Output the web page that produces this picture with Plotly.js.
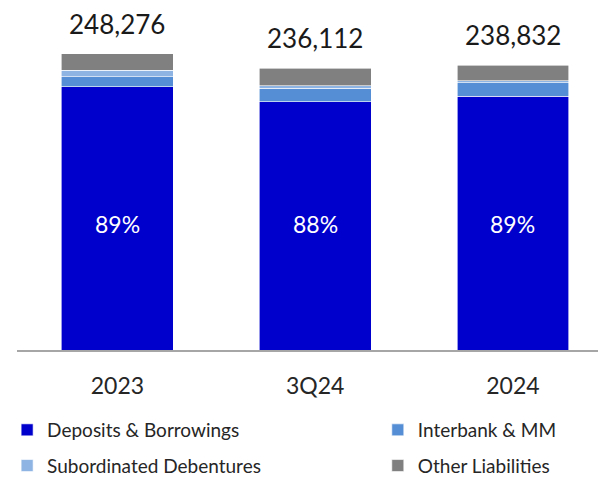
<!DOCTYPE html>
<html>
<head>
<meta charset="utf-8">
<script src="https://cdn.plot.ly/plotly-3.0.1.min.js"></script>
<style>html,body{margin:0;padding:0;background:#fff;}#chart{width:598px;height:479px;}</style>
</head>
<body>
<div id="chart"></div>
<script>
const categories = ['2023', '3Q24', '2024'];
const deposits = [220500, 208000, 212600];
const interbank = [8400, 11500, 11200];
const subordinated = [5600, 2000, 1700];
const otherLiabilities = [13776, 14612, 13332];
const totals = [248276, 236112, 238832];
const seriesNames = ['Deposits & Borrowings', 'Interbank & MM', 'Subordinated Debentures', 'Other Liabilities'];

const FONT = 'Lato, "Liberation Sans", Arial, sans-serif';
const TXT = '#262626';
const barW = 0.566;
const border = {color: '#FFFFFF', width: 0.6};

function bar(name, y, color, legend, group) {
  return {
    type: 'bar', name: name, x: categories, y: y, width: barW,
    marker: {color: color, line: border},
    legend: legend, legendgroup: group,
    hoverinfo: 'y+name'
  };
}

const traces = [
  bar(seriesNames[0], deposits, '#0000CC', 'legend', 'g1'),
  bar(seriesNames[1], interbank, '#558ED5', 'legend2', 'g2'),
  bar(seriesNames[2], subordinated, '#8DB4E2', 'legend', 'g3'),
  bar(seriesNames[3], otherLiabilities, '#808080', 'legend2', 'g4')
];

const fmt = n => n.toLocaleString('en-US');
const annotations = [];
categories.forEach((c, i) => {
  annotations.push({
    x: i, y: totals[i], xref: 'x', yref: 'y', text: fmt(totals[i]),
    showarrow: false, yanchor: 'bottom', yshift: 12,
    font: {family: FONT, size: 26, color: '#1a1a1a'}
  });
  annotations.push({
    x: i, y: 0.36, xref: 'x', yref: 'paper',
    text: Math.round(deposits[i] / totals[i] * 100) + '%',
    showarrow: false, font: {family: FONT, size: 23, color: '#FFFFFF'}
  });
});

const legendCommon = {
  orientation: 'v', traceorder: 'grouped', yref: 'container', yanchor: 'top', y: 0.142,
  font: {family: FONT, size: 19, color: TXT}, tracegroupgap: 8,
  bgcolor: 'rgba(0,0,0,0)', itemclick: false, itemdoubleclick: false
};

const layout = {
  width: 598, height: 479,
  margin: {l: 17, r: 0, t: 0, b: 129},
  barmode: 'stack',
  paper_bgcolor: '#FFFFFF', plot_bgcolor: '#FFFFFF',
  showlegend: true,
  xaxis: {
    type: 'category', range: [-0.508, 2.43],
    showline: true, linecolor: '#A6A6A6', linewidth: 2,
    ticks: '', ticklabelstandoff: 14,
    tickfont: {family: FONT, size: 23, color: TXT},
    showgrid: false, zeroline: false, fixedrange: true
  },
  yaxis: {
    range: [0, 293300], visible: false, showgrid: false, zeroline: false, fixedrange: true
  },
  legend: Object.assign({}, legendCommon, {x: -0.017, xanchor: 'left'}),
  legend2: Object.assign({}, legendCommon, {x: 0.621, xanchor: 'left'}),
  annotations: annotations
};

Plotly.newPlot('chart', traces, layout, {displayModeBar: false, staticPlot: true});
</script>
</body>
</html>
